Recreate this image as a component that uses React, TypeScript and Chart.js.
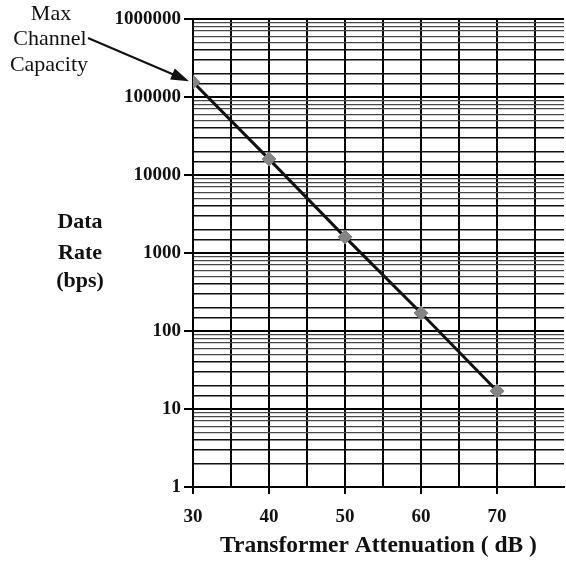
import React, { useEffect, useRef } from "react";
import { Chart, registerables } from "chart.js";

Chart.register(...registerables);

const attenuationDb = [30, 40, 50, 60, 70];
const dataRateBps = [155000, 16000, 1600, 170, 17];
const xTickLabels = [30, 40, 50, 60, 70];
const yTickLabels = [1, 10, 100, 1000, 10000, 100000, 1000000];
const yTitleLines = ["Data", "Rate", "(bps)"];
const annotationLines = ["Max", "Channel", "Capacity"];
const xTitle = "Transformer Attenuation ( dB )";

const SERIF = '"Liberation Serif", "Times New Roman", serif';

const mantissa = (v: number) => v / Math.pow(10, Math.floor(Math.log10(v) + 1e-9));
const isDecade = (v: number) => {
  const l = Math.log10(v);
  return Math.abs(l - Math.round(l)) < 1e-9;
};

const overlayPlugin = {
  id: "overlay",
  afterDraw(chart: any) {
    const ctx = chart.ctx as CanvasRenderingContext2D;
    ctx.save();
    ctx.fillStyle = "#111";
    ctx.textAlign = "center";
    ctx.textBaseline = "alphabetic";
    // y title
    ctx.font = `bold 22px ${SERIF}`;
    const yBase = [228, 259, 287];
    yTitleLines.forEach((t, i) => ctx.fillText(t, 80, yBase[i]));
    // annotation text
    ctx.font = `22px ${SERIF}`;
    const aBase = [20, 45, 71];
    const aX = [51, 50, 49];
    annotationLines.forEach((t, i) => ctx.fillText(t, aX[i], aBase[i]));
    // arrow to first point
    const xs = chart.scales.x;
    const ys = chart.scales.y;
    const tipX = xs.getPixelForValue(attenuationDb[0]) - 4;
    const tipY = ys.getPixelForValue(dataRateBps[0]) - 1;
    const sx = 88, sy = 38;
    const ang = Math.atan2(tipY - sy, tipX - sx);
    ctx.strokeStyle = "#111";
    ctx.lineWidth = 2;
    ctx.beginPath();
    ctx.moveTo(sx, sy);
    ctx.lineTo(tipX - 10 * Math.cos(ang), tipY - 10 * Math.sin(ang));
    ctx.stroke();
    const hl = 18, hw = 6;
    ctx.beginPath();
    ctx.moveTo(tipX, tipY);
    ctx.lineTo(tipX - hl * Math.cos(ang) + hw * Math.sin(ang), tipY - hl * Math.sin(ang) - hw * Math.cos(ang));
    ctx.lineTo(tipX - hl * Math.cos(ang) - hw * Math.sin(ang), tipY - hl * Math.sin(ang) + hw * Math.cos(ang));
    ctx.closePath();
    ctx.fill();
    ctx.restore();
  },
};

export default function App() {
  const ref = useRef<HTMLCanvasElement | null>(null);
  useEffect(() => {
    if (!ref.current) return;
    const chart = new Chart(ref.current, {
      type: "line",
      data: {
        datasets: [
          {
            data: attenuationDb.map((x, i) => ({ x, y: dataRateBps[i] })),
            borderColor: "#111",
            borderWidth: 3,
            pointStyle: "rectRot",
            pointRadius: 7,
            pointBackgroundColor: "#858585",
            pointBorderColor: "#858585",
            pointBorderWidth: 1,
            tension: 0,
          },
        ],
      },
      options: {
        responsive: false,
        animation: false,
        layout: { padding: { top: 19, right: 0, left: 0, bottom: 0 } },
        plugins: { legend: { display: false }, tooltip: { enabled: false } },
        scales: {
          x: {
            type: "linear",
            min: 30,
            max: 78.8,
            afterFit: (s: any) => {
              s.height = 74;
            },
            ticks: {
              stepSize: 5,
              includeBounds: false,
              autoSkip: false,
              maxRotation: 0,
              padding: 12,
              color: "#111",
              font: { family: SERIF, size: 19, weight: "bold" },
              callback: (v: any) => (xTickLabels.includes(Number(v)) ? String(v) : ""),
            },
            grid: {
              color: "#000",
              lineWidth: 2,
              tickLength: 7,
              tickColor: (c: any) => (xTickLabels.includes(c.tick?.value) ? "#000" : "rgba(0,0,0,0)"),
              tickWidth: 2,
            },
            border: { color: "#000", width: 2 },
            title: {
              display: true,
              text: xTitle,
              color: "#111",
              font: { family: SERIF, size: 23.5, weight: "bold" },
              padding: { top: 0, bottom: 1 },
            },
          },
          y: {
            type: "logarithmic",
            min: 1,
            max: 1000000,
            afterFit: (s: any) => {
              s.width = 193;
            },
            ticks: {
              autoSkip: false,
              padding: 3,
              color: "#111",
              font: { family: SERIF, size: 19, weight: "bold" },
              callback: (v: any) => {
                const n = Number(v);
                return isDecade(n) && yTickLabels.includes(n) ? String(n) : "";
              },
            },
            grid: {
              color: (c: any) => {
                if (!c.tick) return "#000";
                const v = c.tick.value;
                if (isDecade(v)) return "#000";
                return mantissa(v) < 4.5 ? "#111" : "#4a4a4a";
              },
              lineWidth: (c: any) => {
                if (!c.tick) return 2;
                const v = c.tick.value;
                if (isDecade(v)) return 2;
                return mantissa(v) < 4.5 ? 1.5 : 1.2;
              },
              tickLength: 9,
              tickColor: (c: any) => (c.tick && isDecade(c.tick.value) ? "#000" : "rgba(0,0,0,0)"),
              tickWidth: 2,
            },
            border: { color: "#000", width: 2 },
          },
        },
      },
      plugins: [overlayPlugin],
    } as any);
    return () => chart.destroy();
  }, []);
  return (
    <div style={{ position: "fixed", left: 0, top: 0, width: 566, height: 561, overflow: "hidden", background: "#fff" }}>
      <canvas ref={ref} width={572} height={561} style={{ width: 572, height: 561, display: "block" }} />
    </div>
  );
}
